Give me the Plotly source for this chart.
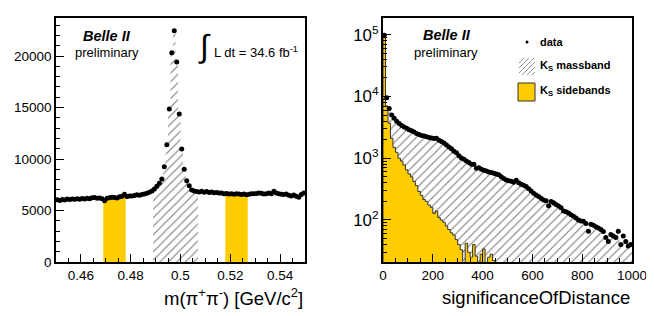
import plotly.graph_objects as go
import numpy as np

W, H = 654, 316
OFF = 8  # page body margin in the browser; layout coordinates below are screen pixels
FONT = "Liberation Sans, Arial, Helvetica, sans-serif"

# ---------------- left panel: m(pi+pi-) ----------------
mass_range = [0.45, 0.55]
mass_nbins = 100
mass_counts = [
    6050, 5980, 6070, 6020, 6110, 6060, 6130, 6090, 6150, 6100,
    6160, 6120, 6190, 6140, 6230, 6260, 6180, 6210, 6150, 5950,
    6180, 6240, 6300, 6270, 6220, 6330, 6380, 6580, 6350, 6400,
    6420, 6470, 6520, 6480, 6550, 6600, 6680, 6780, 6900, 7100,
    7350, 7650, 8060, 9250, 11390, 14850, 20320, 22460, 19420, 14370,
    10970, 9000, 7900, 7400, 7000, 6900, 6850, 6800, 6880, 6780,
    6850, 6760, 6800, 6720, 6750, 6690, 6700, 6620, 6650, 6600,
    6620, 6580, 6640, 6600, 6560, 6610, 6530, 6590, 6640, 6620,
    6650, 6700, 6680, 6600, 6630, 6690, 6620, 6880, 6700, 6640,
    6580, 6560, 6600, 6480, 6420, 6500, 6380, 6280, 6550, 6700,
]
massband = [0.489, 0.507]
sidebands = [[0.469, 0.478], [0.518, 0.527]]

# ---------------- right panel: significanceOfDistance ----------------
sig_range = [0, 1000]
sig_nbins = 100
sig_data = [
    98000, 9500, 6400, 5000, 4450, 3950, 3650, 3400, 3200, 3050,
    2900, 2780, 2650, 2520, 2420, 2340, 2280, 2220, 2170, 2130,
    2080, 2100, 1960, 1870, 1760, 1640, 1520, 1420, 1300, 1230,
    1100, 1010, 960, 900, 850, 800, 800, 690, 700, 660,
    640, 620, 600, 585, 570, 555, 540, 500, 470, 445,
    430, 425, 410, 440, 400, 380, 365, 350, 320, 295,
    270, 255, 240, 225, 210, 205, 170, 200, 190, 178,
    168, 158, 140, 136, 130, 122, 115, 108, 100, 96,
    95, 88, 66, 85, 82, 78, 74, 70, 65, 52,
    45, 58, 55, 52, 66, 40, 55, 45, 38, 40,
]
sig_sideband = [
    95000, 7000, 3700, 2100, 1500, 1250, 1000, 900, 780, 650,
    560, 500, 420, 360, 290, 250, 215, 200, 175, 160,
    128, 140, 110, 100, 92, 80, 70, 62, 57, 48,
    40, 33, 15, 42, 30, 25, 40, 26, 15, 28,
    34, 18, 25, 28, 22, 0, 0, 0, 0, 0,
    0, 0, 0, 0, 0, 0, 0, 0, 0, 0,
    0, 0, 0, 0, 0, 0, 0, 0, 0, 0,
    0, 0, 0, 0, 0, 0, 0, 0, 0, 0,
    0, 0, 0, 0, 0, 0, 0, 0, 0, 0,
    0, 0, 0, 0, 0, 0, 0, 0, 0, 0,
]

YELLOW = "#FFCC00"
HATCH_COLOR = "#777777"
HATCH = dict(shape="/", fgcolor=HATCH_COLOR, bgcolor="rgba(0,0,0,0)", size=6, solidity=0.17)


def step_polygon(edges, values, floor):
    xs, ys = [edges[0]], [floor]
    for i, v in enumerate(values):
        xs += [edges[i], edges[i + 1]]
        ys += [max(v, floor), max(v, floor)]
    xs.append(edges[-1])
    ys.append(floor)
    return xs, ys


def band_polygon(edges, values, lo, hi, floor):
    edges = np.asarray(edges)
    centers = 0.5 * (edges[:-1] + edges[1:])
    idx = np.where((centers > lo) & (centers < hi))[0]
    sub_edges = list(edges[idx[0]: idx[-1] + 2])
    sub_vals = [values[i] for i in idx]
    return step_polygon(sub_edges, sub_vals, floor)


fig = go.Figure()

# left
m_edges = np.linspace(mass_range[0], mass_range[1], mass_nbins + 1)
m_centers = 0.5 * (m_edges[:-1] + m_edges[1:])

xs, ys = band_polygon(m_edges, mass_counts, massband[0], massband[1], 0)
fig.add_trace(go.Scatter(x=xs, y=ys, mode="lines", fill="toself", line=dict(width=0),
                         fillcolor="rgba(0,0,0,0)", fillpattern=HATCH,
                         xaxis="x", yaxis="y", showlegend=False, hoverinfo="skip"))
for lo, hi in sidebands:
    xs, ys = band_polygon(m_edges, mass_counts, lo, hi, 0)
    fig.add_trace(go.Scatter(x=xs, y=ys, mode="lines", fill="toself", line=dict(width=0),
                             fillcolor=YELLOW, xaxis="x", yaxis="y",
                             showlegend=False, hoverinfo="skip"))
fig.add_trace(go.Scatter(x=m_centers, y=mass_counts, mode="markers",
                         marker=dict(color="black", size=5),
                         xaxis="x", yaxis="y", showlegend=False))

# right
s_edges = np.linspace(sig_range[0], sig_range[1], sig_nbins + 1)
s_centers = 0.5 * (s_edges[:-1] + s_edges[1:])
xs, ys = step_polygon(list(s_edges), sig_data, 1)
fig.add_trace(go.Scatter(x=xs, y=ys, mode="lines", fill="toself", line=dict(width=0),
                         fillcolor="rgba(0,0,0,0)", fillpattern=HATCH,
                         xaxis="x2", yaxis="y2", showlegend=False, hoverinfo="skip"))
xs, ys = step_polygon(list(s_edges), sig_sideband, 1)
fig.add_trace(go.Scatter(x=xs, y=ys, mode="lines", fill="toself",
                         line=dict(width=1, color="#333333"),
                         fillcolor=YELLOW, xaxis="x2", yaxis="y2",
                         showlegend=False, hoverinfo="skip"))
fig.add_trace(go.Scatter(x=s_centers, y=sig_data, mode="markers",
                         marker=dict(color="black", size=5),
                         xaxis="x2", yaxis="y2", showlegend=False))


def px(x):
    return (x - OFF) / W


def py(y):
    return 1 - (y - OFF) / H


tickfont = dict(family=FONT, size=13.5, color="black")
common = dict(showline=True, mirror=True, linecolor="black", linewidth=1.5,
              ticks="inside", tickcolor="black", tickwidth=1, showgrid=False,
              zeroline=False, tickfont=tickfont, automargin=False)
minor_common = dict(ticklen=4, ticks="inside", tickcolor="black", tickwidth=1, showgrid=False)

fig.update_layout(
    template="none",
    width=W, height=H, margin=dict(l=0, r=0, t=0, b=0, autoexpand=False),
    paper_bgcolor="white", plot_bgcolor="white",
    xaxis=dict(domain=[px(56), px(305)], range=mass_range, dtick=0.02, tick0=0,
               ticklen=8, minor=dict(dtick=0.005, **minor_common),
               anchor="y", **common),
    yaxis=dict(domain=[py(262), py(18)], range=[0, 23700], dtick=5000, ticklen=8,
               tickformat="d",
               minor=dict(dtick=1000, **minor_common),
               anchor="x", **common),
    xaxis2=dict(domain=[px(383), px(632)], range=sig_range, dtick=200, ticklen=8,
                minor=dict(dtick=50, **minor_common),
                anchor="y2", **common),
    yaxis2=dict(domain=[py(262), py(18)], type="log", range=[1.32, 5.27], dtick=1,
                exponentformat="power", ticklen=8,
                minor=dict(dtick="D1", **minor_common),
                anchor="x2", **common),
    showlegend=False,
)

ann = []


def text(x, y, t, size, xanchor="center", family=FONT, color="black"):
    ann.append(dict(x=px(x), y=py(y), xref="paper", yref="paper", text=t, showarrow=False,
                    xanchor=xanchor, yanchor="middle", font=dict(family=family, size=size, color=color)))


# left labels
text(107, 36, "<b><i>Belle II</i></b>", 14.5)
text(107, 53, "preliminary", 13)
text(204, 46, "∫", 32)
text(212, 52, "L dt = 34.6 fb<sup>-1</sup>", 13, xanchor="left")
text(305, 297, "m(π<sup>+</sup>π<sup>-</sup>) [GeV/c<sup>2</sup>]", 18.5, xanchor="right")

# right labels
text(447, 35, "<b><i>Belle II</i></b>", 14.5)
text(446, 53, "preliminary", 13)
text(632, 297, "significanceOfDistance", 18.5, xanchor="right")

# legend
text(538, 42, "<b>data</b>", 11, xanchor="left")
text(538, 66, "<b>K<sub>S</sub> massband</b>", 11, xanchor="left")
text(538, 91, "<b>K<sub>S</sub> sidebands</b>", 11, xanchor="left")
fig.update_layout(annotations=ann)

shapes = []
# data dot
shapes.append(dict(type="circle", xref="paper", yref="paper",
                   x0=px(525.5), x1=px(528.5), y0=py(43.5), y1=py(40.5),
                   fillcolor="black", line=dict(width=0)))
# hatched swatch (diagonal "/" lines clipped to the box)
bx0, bx1, by0, by1 = 519, 535, 58, 75
path = ""
for k in range(0, 40, 5):
    segs = []
    for t in np.linspace(-30, 30, 601):
        xx = bx0 + k - 17 + t
        yy = by1 - t
        if bx0 <= xx <= bx1 and by0 <= yy <= by1:
            segs.append((xx, yy))
    if len(segs) > 5:
        (xa, ya), (xb, yb) = segs[0], segs[-1]
        path += f"M{px(xa)},{py(ya)} L{px(xb)},{py(yb)} "
shapes.append(dict(type="path", xref="paper", yref="paper", path=path,
                   line=dict(color=HATCH_COLOR, width=0.8)))
# yellow swatch
shapes.append(dict(type="rect", xref="paper", yref="paper",
                   x0=px(518), x1=px(535), y0=py(101), y1=py(83),
                   fillcolor=YELLOW, line=dict(color="#333333", width=1)))
fig.update_layout(shapes=shapes)

fig.write_html("out.html")
